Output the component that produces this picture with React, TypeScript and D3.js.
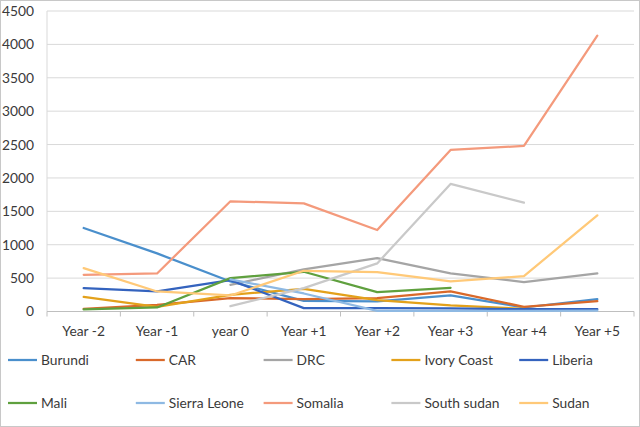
import React from 'react';
import * as d3 from 'd3';

const categories = ['Year -2', 'Year -1', 'year 0', 'Year +1', 'Year +2', 'Year +3', 'Year +4', 'Year +5'];
const yTicks = [0, 500, 1000, 1500, 2000, 2500, 3000, 3500, 4000, 4500];

type V = number | null;

const burundi: V[] = [1250, 870, 450, 160, 150, 240, 60, 185];
const car: V[] = [40, 100, 200, 185, 200, 300, 70, 155];
const drc: V[] = [null, null, 400, 630, 800, 570, 440, 570];
const ivoryCoast: V[] = [220, 70, 250, 340, 170, 90, 40, null];
const liberia: V[] = [350, 300, 470, 50, 50, 45, 35, 35];
const mali: V[] = [30, 60, 500, 595, 290, 355, null, null];
const sierraLeone: V[] = [null, null, 480, 270, 10, 10, 10, 12];
const somalia: V[] = [550, 570, 1650, 1620, 1220, 2420, 2480, 4130];
const southSudan: V[] = [null, null, 80, 350, 720, 1910, 1630, null];
const sudan: V[] = [650, 300, 240, 610, 590, 450, 530, 1440];

const seriesNames = ['Burundi', 'CAR', 'DRC', 'Ivory Coast', 'Liberia', 'Mali', 'Sierra Leone', 'Somalia', 'South sudan', 'Sudan'];
const seriesValues = [burundi, car, drc, ivoryCoast, liberia, mali, sierraLeone, somalia, southSudan, sudan];
const seriesColors = ['#4A8FCC', '#D9692A', '#A5A5A5', '#E3A11B', '#3463BE', '#5FA03E', '#8EB9E3', '#F49A7C', '#C9C9C9', '#FFC978'];

const W = 640;
const H = 427;
const margin = { top: 11, left: 47, right: 6, bottom: 115.5 };
const font = 'Lato, "Open Sans", sans-serif';
const textColor = '#3A3A3A';

export default function App() {
  const x0 = margin.left;
  const x1 = W - margin.right;
  const yBottom = H - margin.bottom;

  const band = d3.scaleBand<string>().domain(categories).range([x0, x1]).padding(0);
  const xScale = d3.scalePoint<string>().domain(categories).range([x0, x1]).padding(0.5);
  const yScale = d3.scaleLinear().domain([0, 4500]).range([yBottom, margin.top]);

  const line = d3
    .line<V>()
    .defined(d => d !== null)
    .x((_, i) => xScale(categories[i]) as number)
    .y(d => yScale(d as number));

  const boundaries = categories.map(c => band(c) as number).concat([x1]);

  return (
    <svg width={W} height={H} style={{ position: 'fixed', left: 0, top: 0, background: '#fff' }} fontFamily={font}>
      <rect x={0.5} y={0.5} width={W - 1} height={H - 1} fill="#fff" stroke="#C8C8C8" />

      {/* gridlines */}
      {yTicks.map(t => (
        <line key={t} x1={x0} x2={x1} y1={yScale(t)} y2={yScale(t)} stroke="#D9D9D9" strokeWidth={1} />
      ))}

      {/* y axis */}
      <line x1={x0} x2={x0} y1={margin.top} y2={yBottom} stroke="#D9D9D9" />
      {yTicks.map(t => (
        <text key={t} x={x0 - 13} y={yScale(t)} dy="0.36em" textAnchor="end" fontSize={13.8} fill={textColor}>
          {t}
        </text>
      ))}

      {/* x axis */}
      <line x1={x0} x2={x1} y1={yBottom} y2={yBottom} stroke="#BFBFBF" />
      {boundaries.map((b, i) => (
        <line key={i} x1={b} x2={b} y1={yBottom} y2={yBottom + 5} stroke="#BFBFBF" />
      ))}
      {categories.map(c => (
        <text key={c} x={xScale(c)} y={yBottom + 24} textAnchor="middle" fontSize={13.8} fill={textColor}>
          {c}
        </text>
      ))}

      {/* series */}
      {seriesValues.map((vals, i) => (
        <path key={seriesNames[i]} d={line(vals) || ''} fill="none" stroke={seriesColors[i]} strokeWidth={2.25} strokeLinejoin="round" strokeLinecap="round" />
      ))}

      {/* legend */}
      {seriesNames.map((name, i) => {
        const col = i % 5;
        const row = Math.floor(i / 5);
        const lx = 8 + col * 127.8;
        const ly = 360 + row * 43;
        return (
          <g key={name}>
            <line x1={lx} x2={lx + 29} y1={ly} y2={ly} stroke={seriesColors[i]} strokeWidth={2.25} />
            <text x={lx + 33} y={ly} dy="0.36em" fontSize={13.8} fill={textColor}>
              {name}
            </text>
          </g>
        );
      })}
    </svg>
  );
}
